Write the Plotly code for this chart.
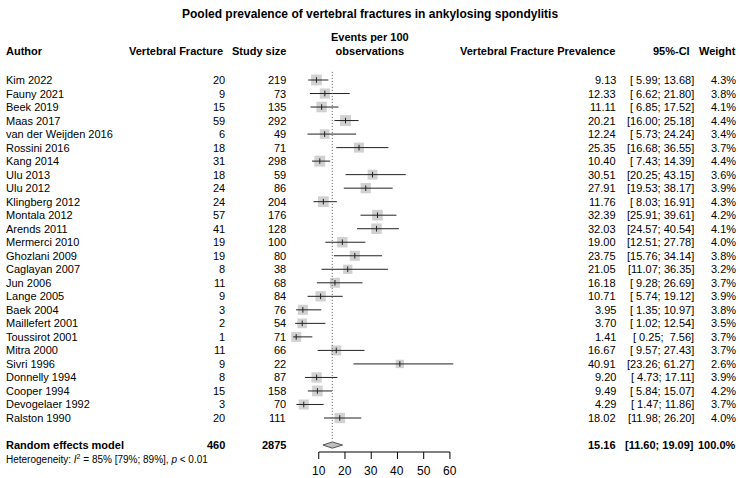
import plotly.graph_objects as go

authors = ["Kim 2022", "Fauny 2021", "Beek 2019", "Maas 2017", "van der Weijden 2016",
           "Rossini 2016", "Kang 2014", "Ulu 2013", "Ulu 2012", "Klingberg 2012",
           "Montala 2012", "Arends 2011", "Mermerci 2010", "Ghozlani 2009", "Caglayan 2007",
           "Jun 2006", "Lange 2005", "Baek 2004", "Maillefert 2001", "Toussirot 2001",
           "Mitra 2000", "Sivri 1996", "Donnelly 1994", "Cooper 1994", "Devogelaer 1992",
           "Ralston 1990"]
events = [20, 9, 15, 59, 6, 18, 31, 18, 24, 24, 57, 41, 19, 19, 8, 11, 9, 3, 2, 1, 11, 9, 8, 15, 3, 20]
sizes = [219, 73, 135, 292, 49, 71, 298, 59, 86, 204, 176, 128, 100, 80, 38, 68, 84, 76, 54, 71,
         66, 22, 87, 158, 70, 111]
prev = [9.13, 12.33, 11.11, 20.21, 12.24, 25.35, 10.40, 30.51, 27.91, 11.76, 32.39, 32.03, 19.00,
        23.75, 21.05, 16.18, 10.71, 3.95, 3.70, 1.41, 16.67, 40.91, 9.20, 9.49, 4.29, 18.02]
lower = [5.99, 6.62, 6.85, 16.00, 5.73, 16.68, 7.43, 20.25, 19.53, 8.03, 25.91, 24.57, 12.51,
         15.76, 11.07, 9.28, 5.74, 1.35, 1.02, 0.25, 9.57, 23.26, 4.73, 5.84, 1.47, 11.98]
upper = [13.68, 21.80, 17.52, 25.18, 24.24, 36.55, 14.39, 43.15, 38.17, 16.91, 39.61, 40.54, 27.78,
         34.14, 36.35, 26.69, 19.12, 10.97, 12.54, 7.56, 27.43, 61.27, 17.11, 15.07, 11.86, 26.20]
weights = [4.3, 3.8, 4.1, 4.4, 3.4, 3.7, 4.4, 3.6, 3.9, 4.3, 4.2, 4.1, 4.0, 3.8, 3.2, 3.7, 3.9,
           3.8, 3.5, 3.7, 3.7, 2.6, 3.9, 4.2, 3.7, 4.0]

pooled_events = 460
pooled_size = 2875
pooled_est = 15.16
pooled_lower = 11.60
pooled_upper = 19.09
pooled_weight = 100.0
het_text = "Heterogeneity: <i>I</i><sup>2</sup> = 85% [79%; 89%], <i>p</i> < 0.01"
axis_ticks = [10, 20, 30, 40, 50, 60]

title = "Pooled prevalence of vertebral fractures in ankylosing spondylitis"
headers = ["Author", "Vertebral Fracture", "Study size", "Events per 100<br>observations",
           "Vertebral Fracture Prevalence", "95%-CI", "Weight"]

# ---- layout geometry (pixels) ----
W, H = 740, 478
px0 = 292.5          # pixel of value 0
ppu = 2.624          # pixels per unit
row0 = 80.0          # pixel of first row
rowh = 13.52         # row height
FONT = "Liberation Sans, Arial, sans-serif"

def prow(pix):
    return (pix - row0) / rowh

n = len(authors)
rows = list(range(n))
pooled_row = n + 1
het_row = n + 2

fig = go.Figure()

# squares
fig.add_trace(go.Scatter(
    x=prev, y=rows, mode="markers",
    marker=dict(symbol="square", color="#BEBEBE",
                size=[5.2 * w ** 0.5 for w in weights], line=dict(width=0)),
    hoverinfo="skip", showlegend=False))

# CI lines
cx, cy = [], []
for r, lo, hi in zip(rows, lower, upper):
    cx += [lo, hi, None]
    cy += [r, r, None]
fig.add_trace(go.Scatter(x=cx, y=cy, mode="lines", line=dict(color="#222222", width=1),
                         hoverinfo="skip", showlegend=False))
# center ticks
fig.add_trace(go.Scatter(
    x=prev, y=rows, mode="markers",
    marker=dict(symbol="line-ns", size=4, line=dict(color="#222222", width=1)),
    hoverinfo="skip", showlegend=False))

# dotted pooled line
fig.add_trace(go.Scatter(x=[pooled_est, pooled_est], y=[-0.6, pooled_row - 0.3], mode="lines",
                         line=dict(color="#555555", width=1, dash="1px,2px"),
                         hoverinfo="skip", showlegend=False))

# diamond
dh = 0.23
fig.add_trace(go.Scatter(
    x=[pooled_lower, pooled_est, pooled_upper, pooled_est, pooled_lower],
    y=[pooled_row, pooled_row - dh, pooled_row, pooled_row + dh, pooled_row],
    mode="lines", fill="toself", fillcolor="#BEBEBE",
    line=dict(color="#555555", width=1), hoverinfo="skip", showlegend=False))

# axis (line, ticks) drawn in data coordinates
axis_row = prow(452)
tick_end = prow(459)
label_row = prow(471)
shapes = [dict(type="line", xref="x", yref="y", x0=axis_ticks[0], x1=axis_ticks[-1],
               y0=axis_row, y1=axis_row, line=dict(color="black", width=1))]
for t in axis_ticks:
    shapes.append(dict(type="line", xref="x", yref="y", x0=t, x1=t, y0=axis_row, y1=tick_end,
                       line=dict(color="black", width=1)))

ann = []
def txt(text, px, r, anchor, bold=False, size=11):
    ann.append(dict(text=("<b>%s</b>" % text) if bold else text, x=px / W, xref="paper",
                    y=r, yref="y", xanchor=anchor, yanchor="middle", showarrow=False,
                    font=dict(family=FONT, size=size, color="black")))

for t in axis_ticks:
    ann.append(dict(text=str(t), x=t, xref="x", y=label_row, yref="y", xanchor="center",
                    yanchor="middle", showarrow=False,
                    font=dict(family=FONT, size=12, color="black")))

for r in rows:
    txt(authors[r], 4, r, "left")
    txt(str(events[r]), 227, r, "right")
    txt(str(sizes[r]), 288, r, "right")
    txt("%.2f" % prev[r], 618, r, "right")
    txt("[%5.2f; %5.2f]" % (lower[r], upper[r]), 696, r, "right")
    txt("%.1f%%" % weights[r], 738, r, "right")

txt("Random effects model", 4, pooled_row, "left", bold=True)
txt(str(pooled_events), 227, pooled_row, "right", bold=True)
txt(str(pooled_size), 288, pooled_row, "right", bold=True)
txt("%.2f" % pooled_est, 618, pooled_row, "right", bold=True)
txt("[%5.2f; %5.2f]" % (pooled_lower, pooled_upper), 696, pooled_row, "right", bold=True)
txt("%.1f%%" % pooled_weight, 738, pooled_row, "right", bold=True)
txt(het_text, 4, het_row, "left", size=10)

hy = prow(51)
txt(headers[0], 4, hy, "left", bold=True)
txt(headers[1], 225, hy, "right", bold=True)
txt(headers[2], 288, hy, "right", bold=True)
txt(headers[3], 370, prow(44), "center", bold=True)
txt(headers[4], 617, hy, "right", bold=True)
txt(headers[5], 692, hy, "right", bold=True)
txt(headers[6], 738, hy, "right", bold=True)

ann.append(dict(text="<b>%s</b>" % title, x=0.5, xref="paper", y=1 - 14 / H, yref="paper",
                xanchor="center", yanchor="middle", showarrow=False,
                font=dict(family=FONT, size=12, color="black")))

fig.update_layout(
    width=W, height=H, margin=dict(l=0, r=0, t=0, b=0),
    plot_bgcolor="white", paper_bgcolor="white",
    annotations=ann, shapes=shapes,
    xaxis=dict(range=[-px0 / ppu, (W - px0) / ppu], visible=False, domain=[0, 1]),
    yaxis=dict(range=[(H - row0) / rowh, -row0 / rowh], visible=False, domain=[0, 1]),
)

fig.write_html("out.html", config={"displayModeBar": False},
               post_script="document.body.style.margin='0';")
